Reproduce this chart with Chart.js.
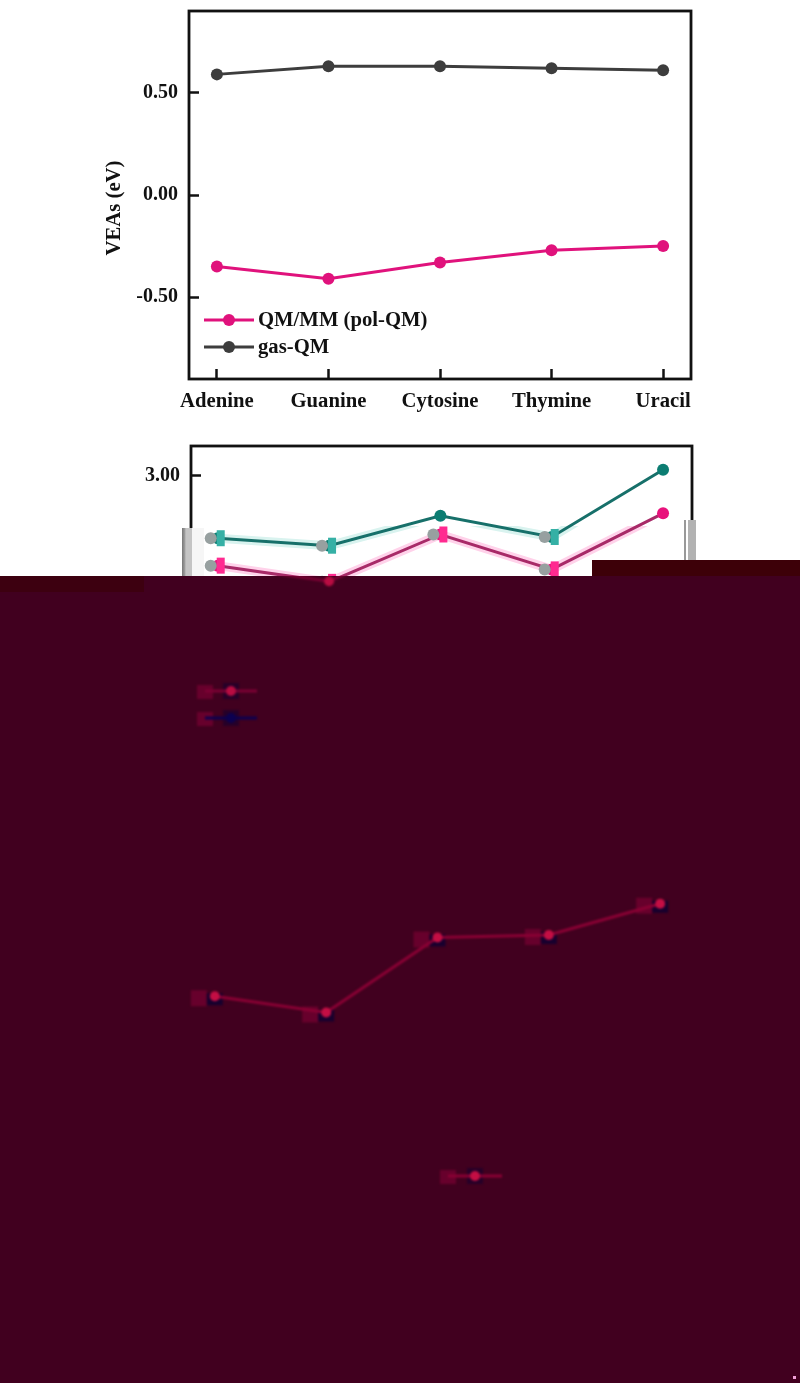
<!DOCTYPE html>
<html>
<head>
<meta charset="utf-8">
<script src="https://cdn.jsdelivr.net/npm/chart.js@4/dist/chart.umd.min.js"></script>
<style>
  html, body { margin: 0; padding: 0; background: #fff; }
  body { position: relative; width: 800px; height: 1383px; overflow: hidden; }
  .layer { position: absolute; left: 0; width: 800px; overflow: hidden; }
  .layer canvas { position: absolute; left: 0; }
  .soft canvas { filter: blur(0.5px); }
  .dim canvas { filter: blur(1px); }
  .patch { position: absolute; }
</style>
</head>
<body>
<div class="layer soft" style="top:0;height:420px"><canvas id="top" width="800" height="420" style="top:0"></canvas></div>
<div class="layer soft" style="top:440px;height:136px"><canvas id="mid" width="800" height="360" style="top:0"></canvas></div>

<div class="patch" style="left:182px;top:528px;width:10px;height:48px;background:linear-gradient(90deg,#777 0,#999 25%,#c4c4c4 40%,#c4c4c4 100%)"></div>
<div class="patch" style="left:192px;top:528px;width:12px;height:48px;background:#f6f6f6"></div>
<div class="patch" style="left:684px;top:520px;width:2px;height:40px;background:#999"></div>
<div class="patch" style="left:688px;top:520px;width:8px;height:40px;background:#b2b2b2"></div>

<div class="patch" style="left:0;top:576px;width:800px;height:807px;background:#41001f"></div>
<div class="patch" style="left:592px;top:560px;width:208px;height:16px;background:#3d0008"></div>
<div class="patch" style="left:0;top:576px;width:144px;height:16px;background:#3d0010"></div>
<div class="patch" style="left:793px;top:1376px;width:3px;height:3px;background:#f0a0d8"></div>

<div class="layer dim" style="top:576px;height:224px"><canvas id="midDim" width="800" height="360" style="top:-136px"></canvas></div>
<div class="layer dim" style="top:576px;height:807px"><canvas id="low" width="800" height="807" style="top:0"></canvas></div>

<script>
const categories = ['Adenine', 'Guanine', 'Cytosine', 'Thymine', 'Uracil'];

const polQm = [-0.35, -0.41, -0.33, -0.27, -0.25];
const gasQm = [0.59, 0.63, 0.63, 0.62, 0.61];
const topTicks = [-0.5, 0, 0.5];

const midTeal = [2.50, 2.44, 2.68, 2.51, 3.05];
const midPink = [2.28, 2.15, 2.53, 2.25, 2.70];
const midTicks = [1, 2, 3];

const lowRed = [1.71, 1.58, 2.18, 2.20, 2.45];

const serif = '"Liberation Serif", serif';
const PINK = '#e0127c', GREY = '#3d3d3d', TEAL = '#0c7d72';
Chart.defaults.animation = false;
Chart.defaults.devicePixelRatio = 1;

const pts = vals => vals.map((y, i) => ({ x: i, y }));

function series(label, vals, color, extra) {
  return Object.assign({
    label, data: pts(vals), borderColor: color, backgroundColor: color,
    pointBackgroundColor: color, pointBorderColor: color,
    borderWidth: 3, pointRadius: 6, pointBorderWidth: 0, tension: 0,
  }, extra);
}

// closed box round the plot, the library only draws the axis side
const frame = {
  id: 'frame',
  afterDraw(chart) {
    const a = chart.chartArea, c = chart.ctx;
    c.save();
    c.strokeStyle = '#111';
    c.lineWidth = 2.8;
    c.strokeRect(a.left, a.top, a.width, a.height);
    c.restore();
  },
};

// axis title sits below the middle of the axis, a scale title would centre it
const sideTitle = {
  id: 'sideTitle',
  afterDraw(chart, _, o) {
    if (!o.text) return;
    const c = chart.ctx;
    c.save();
    c.translate(o.x, o.y);
    c.rotate(-Math.PI / 2);
    c.fillStyle = '#111';
    c.font = 'bold 20.7px ' + serif;
    c.textAlign = 'center';
    c.textBaseline = 'middle';
    c.fillText(o.text, 0, 0);
    c.restore();
  },
};

// legend sample is a line with a dot on it, which the stock legend cannot do
const lineLegend = {
  id: 'lineLegend',
  afterDraw(chart, _, o) {
    if (!o.items) return;
    const c = chart.ctx;
    c.save();
    o.items.forEach(it => {
      const ds = chart.data.datasets[it.dataset];
      if (o.block) {
        c.fillStyle = 'rgba(150,0,60,0.45)';
        c.fillRect(o.x - 8, it.y - 6, 16, 14);
        c.fillStyle = 'rgba(12,0,50,0.5)';
        c.fillRect(o.x + o.len / 2 - 8, it.y - 8, 16, 16);
      }
      c.strokeStyle = ds.borderColor;
      c.lineWidth = ds.borderWidth;
      c.beginPath();
      c.moveTo(o.x, it.y);
      c.lineTo(o.x + o.len, it.y);
      c.stroke();
      c.fillStyle = ds.pointBackgroundColor;
      c.beginPath();
      c.arc(o.x + o.len / 2, it.y, ds.pointRadius, 0, Math.PI * 2);
      c.fill();
      if (o.text) {
        c.fillStyle = '#111';
        c.font = 'bold 20.7px ' + serif;
        c.textBaseline = 'middle';
        c.fillText(ds.label, o.x + o.len + 4, it.y + 1);
      }
    });
    c.restore();
  },
};

// washed out circles and coloured blocks on the points inside the white band
const bandMarks = {
  id: 'bandMarks',
  afterDatasetsDraw(chart, _, o) {
    if (!o.below) return;
    const c = chart.ctx;
    c.save();
    chart.data.datasets.forEach((ds, i) => {
      if (!ds.bandColor) return;
      chart.getDatasetMeta(i).data.forEach(p => {
        if (p.y < o.below) return;
        c.fillStyle = ds.bandColor;
        c.fillRect(p.x - 1, p.y - 8, 8, 16);
        c.fillStyle = '#97a0a0';
        c.beginPath();
        c.arc(p.x - 7, p.y, 6, 0, Math.PI * 2);
        c.fill();
      });
    });
    c.restore();
  },
};

// square blocks beside each dim point
const dimBlocks = {
  id: 'dimBlocks',
  beforeDatasetsDraw(chart, _, o) {
    if (!o.on) return;
    const c = chart.ctx;
    c.save();
    chart.data.datasets.forEach((ds, i) => {
      chart.getDatasetMeta(i).data.forEach(p => {
        c.fillStyle = 'rgba(150,0,60,0.45)';
        c.fillRect(p.x - 24, p.y - 6, 16, 16);
        c.fillStyle = 'rgba(12,0,50,0.8)';
        c.fillRect(p.x - 8, p.y - 3, 16, 12);
      });
    });
    c.restore();
  },
};

function xScale(show, min, max) {
  return {
    type: 'linear', min, max, display: show,
    afterBuildTicks: s => { s.ticks = categories.map((_, i) => ({ value: i })); },
    afterFit: s => {
      if (!show) return;
      s.height = 41;
      s.paddingLeft = 0;
      s.paddingRight = 0;
    },
    grid: { drawOnChartArea: false, tickLength: -10, tickWidth: 2.5, tickColor: '#111', drawTicks: true },
    border: { display: false },
    ticks: {
      autoSkip: false, maxRotation: 0, padding: 20, color: '#111',
      font: { family: serif, size: 20.7, weight: 'bold' },
      callback: v => categories[v],
    },
  };
}

function yScale(show, min, max, values, width) {
  return {
    type: 'linear', min, max, display: show,
    afterBuildTicks: s => { s.ticks = values.map(value => ({ value })); },
    afterFit: s => {
      if (!show) return;
      s.width = width;
      s.paddingTop = 0;
      s.paddingBottom = 0;
    },
    grid: { drawOnChartArea: false, tickLength: -10, tickWidth: 2.5, tickColor: '#111' },
    border: { display: false },
    ticks: {
      padding: 21, color: '#111',
      font: { family: serif, size: 20, weight: 'bold' },
      callback: v => v.toFixed(2),
    },
  };
}

const noStock = { legend: { display: false }, tooltip: { enabled: false } };

new Chart(document.getElementById('top'), {
  type: 'line',
  data: {
    datasets: [
      series('QM/MM (pol-QM)', polQm, PINK),
      series('gas-QM', gasQm, GREY),
    ],
  },
  options: {
    responsive: false,
    layout: { padding: { left: 104, right: 109, top: 11, bottom: 0 } },
    scales: {
      x: xScale(true, -0.25, 4.25),
      y: yScale(true, -0.9, 0.9, topTicks, 85),
    },
    plugins: Object.assign({
      sideTitle: { text: 'VEAs (eV)', x: 115, y: 208 },
      lineLegend: { x: 204, len: 50, text: true, items: [{ dataset: 0, y: 320 }, { dataset: 1, y: 347 }] },
    }, noStock),
  },
  plugins: [frame, sideTitle, lineLegend],
});

// clip insets the pale halos to the band below y=525 on the page
const halo = { pointRadius: 0, borderWidth: 9, order: 5, clip: { left: 0, right: 0, bottom: 0, top: -80 } };

new Chart(document.getElementById('mid'), {
  type: 'line',
  data: {
    datasets: [
      series('halo teal', midTeal, '#d9f3ef', halo),
      series('halo pink', midPink, '#ffd2ea', halo),
      series('teal', midTeal, TEAL, { bandColor: '#35b0a5', borderColor: '#17706a' }),
      series('pink', midPink, '#e8127c', { bandColor: '#ff2a90', borderColor: '#a82a68' }),
    ],
  },
  options: {
    responsive: false,
    layout: { padding: { left: 106, right: 108, top: 5, bottom: 12.5 } },
    scales: {
      x: xScale(false, -0.24, 4.26),
      y: yScale(true, 0.5, 3.24, midTicks, 85),
    },
    plugins: Object.assign({ bandMarks: { below: 85 } }, noStock),
  },
  plugins: [frame, bandMarks],
});

// same panel again, only what shows through the dark area
new Chart(document.getElementById('midDim'), {
  type: 'line',
  data: {
    datasets: [
      series('pink', midPink, '#7c0034', { pointBackgroundColor: '#b80c42', pointRadius: 5 }),
      series('teal', midTeal, '#0c0050', { pointBackgroundColor: '#0c0050', pointRadius: 5 }),
    ],
  },
  options: {
    responsive: false,
    layout: { padding: { left: 191, right: 108, top: 5, bottom: 12.5 } },
    scales: {
      x: xScale(false, -0.24, 4.26),
      y: yScale(false, 0.5, 3.24, midTicks, 85),
    },
    plugins: Object.assign({
      lineLegend: { x: 205, len: 52, block: true, items: [{ dataset: 0, y: 251 }, { dataset: 1, y: 278 }] },
    }, noStock),
  },
  plugins: [lineLegend],
});

new Chart(document.getElementById('low'), {
  type: 'line',
  data: { datasets: [series('red', lowRed, '#8a0034', { pointBackgroundColor: '#c40e44', pointRadius: 5 })] },
  options: {
    responsive: false,
    layout: { padding: { left: 187, right: 112, top: 264, bottom: 173 } },
    scales: {
      x: xScale(false, -0.25, 4.25),
      y: yScale(false, 0, 2.96, [], 85),
    },
    plugins: Object.assign({
      dimBlocks: { on: true },
      lineLegend: { x: 448, len: 54, block: true, items: [{ dataset: 0, y: 600 }] },
    }, noStock),
  },
  plugins: [dimBlocks, lineLegend],
});
</script>
</body>
</html>
